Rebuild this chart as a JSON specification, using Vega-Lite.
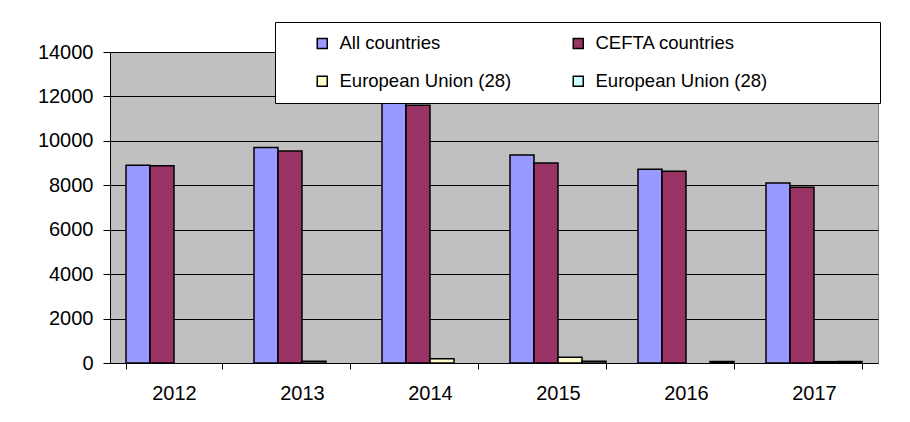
{
  "$schema": "https://vega.github.io/schema/vega-lite/v6.json",
  "autosize": {"type": "none"},
  "width": 768,
  "height": 311,
  "padding": {"left": 110, "top": 52, "right": 32, "bottom": 59},
  "background": "white",
  "data": {
    "values": [
      {"year": "2012", "series": "All countries", "value": 8900},
      {"year": "2012", "series": "CEFTA countries", "value": 8880},
      {"year": "2012", "series": "European Union (28)", "value": null},
      {"year": "2012", "series": "European Union (28) b", "value": null},
      {"year": "2013", "series": "All countries", "value": 9700},
      {"year": "2013", "series": "CEFTA countries", "value": 9540},
      {"year": "2013", "series": "European Union (28)", "value": 80},
      {"year": "2013", "series": "European Union (28) b", "value": null},
      {"year": "2014", "series": "All countries", "value": 11730},
      {"year": "2014", "series": "CEFTA countries", "value": 11600},
      {"year": "2014", "series": "European Union (28)", "value": 190},
      {"year": "2014", "series": "European Union (28) b", "value": null},
      {"year": "2015", "series": "All countries", "value": 9360},
      {"year": "2015", "series": "CEFTA countries", "value": 9000},
      {"year": "2015", "series": "European Union (28)", "value": 260},
      {"year": "2015", "series": "European Union (28) b", "value": 80},
      {"year": "2016", "series": "All countries", "value": 8720},
      {"year": "2016", "series": "CEFTA countries", "value": 8630},
      {"year": "2016", "series": "European Union (28)", "value": null},
      {"year": "2016", "series": "European Union (28) b", "value": 70},
      {"year": "2017", "series": "All countries", "value": 8100},
      {"year": "2017", "series": "CEFTA countries", "value": 7910},
      {"year": "2017", "series": "European Union (28)", "value": 60},
      {"year": "2017", "series": "European Union (28) b", "value": 70}
    ]
  },
  "mark": {"type": "bar", "stroke": "black", "strokeWidth": 1.5},
  "encoding": {
    "x": {
      "field": "year",
      "type": "nominal",
      "scale": {"paddingInner": 0.25, "paddingOuter": 0.125},
      "axis": {
        "title": null,
        "labelAngle": 0,
        "tickBand": "extent",
        "domainColor": "black",
        "tickColor": "black",
        "tickSize": 6,
        "labelPadding": 14,
        "labelFontSize": 20,
        "labelFont": "Liberation Sans",
        "labelColor": "black"
      }
    },
    "xOffset": {
      "field": "series",
      "type": "nominal",
      "sort": ["All countries", "CEFTA countries", "European Union (28)", "European Union (28) b"],
      "scale": {"paddingInner": 0, "paddingOuter": 0}
    },
    "y": {
      "field": "value",
      "type": "quantitative",
      "scale": {"domain": [0, 14000], "nice": false},
      "axis": {
        "title": null,
        "values": [0, 2000, 4000, 6000, 8000, 10000, 12000, 14000],
        "format": "d",
        "domainColor": "black",
        "tickColor": "black",
        "tickSize": 7,
        "labelPadding": 10,
        "labelFontSize": 20,
        "labelFont": "Liberation Sans",
        "labelColor": "black",
        "gridColor": "black",
        "gridOpacity": 1,
        "gridWidth": 1
      }
    },
    "color": {
      "field": "series",
      "type": "nominal",
      "sort": ["All countries", "CEFTA countries", "European Union (28)", "European Union (28) b"],
      "scale": {
        "domain": ["All countries", "CEFTA countries", "European Union (28)", "European Union (28) b"],
        "range": ["#9999FF", "#993366", "#FFFFCC", "#CCFFFF"]
      },
      "legend": {
        "title": "\u00a0",
        "titleOrient": "right",
        "titlePadding": 101,
        "titleFontSize": 10,
        "orient": "none",
        "legendX": 165,
        "legendY": -30,
        "columns": 2,
        "direction": "horizontal",
        "columnPadding": 31,
        "rowPadding": 19,
        "padding": 12,
        "symbolOffset": 26,
        "fillColor": "white",
        "strokeColor": "black",
        "symbolType": "square",
        "symbolSize": 100,
        "symbolStrokeColor": "black",
        "symbolStrokeWidth": 1.5,
        "labelOffset": 8,
        "labelFontSize": 18.5,
        "labelFont": "Liberation Sans",
        "labelColor": "black",
        "labelLimit": 300,
        "labelExpr": "replace(datum.label, ' b', '')"
      }
    }
  },
  "config": {
    "view": {"fill": "#C0C0C0", "stroke": "#808080", "strokeWidth": 1}
  }
}
